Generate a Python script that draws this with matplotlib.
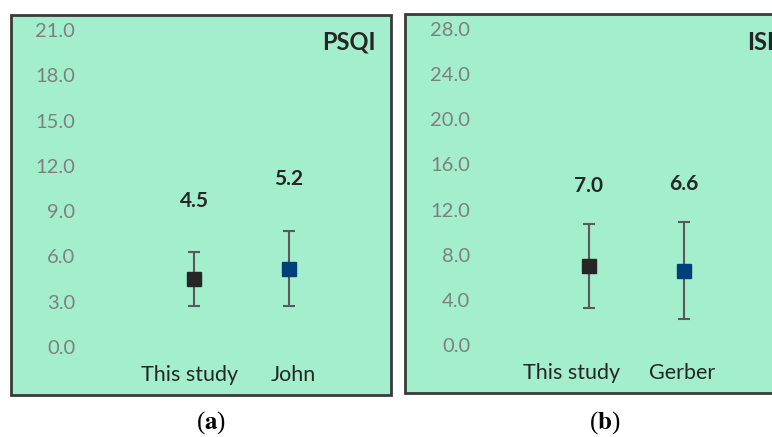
import matplotlib.pyplot as plt
from matplotlib.patches import Rectangle

# PSQI panel
psqi_groups = ["This study", "John"]
psqi_mean = [4.5, 5.2]
psqi_err = [1.8, 2.5]

# ISI panel
isi_groups = ["This study", "Gerber"]
isi_mean = [7.0, 6.6]
isi_err = [3.7, 4.3]

marker_colors = ["#262626", "#003f7a"]
bg = "#a3eecd"
W, H = 772, 437

plt.rcParams['font.family'] = ['Lato', 'DejaVu Sans']
plt.rcParams['mathtext.fontset'] = 'stix'

fig = plt.figure(figsize=(W / 100, H / 100), dpi=100)


def px_box(x0, y0, x1, y1):
    # pixel box (top-left origin) -> figure fraction [l, b, w, h]
    return [x0 / W, 1 - y1 / H, (x1 - x0) / W, (y1 - y0) / H]


def panel(frame, axbox, groups, mean, err, ymax, step, xlim, label_x,
          title, title_x, tag, tag_x):
    l, b, w, h = px_box(*frame)
    fig.patches.append(Rectangle((l, b), w, h, transform=fig.transFigure,
                                 facecolor=bg, edgecolor="#3a3a3a", lw=2.0, zorder=-1))
    ax = fig.add_axes(px_box(*axbox))
    ax.patch.set_alpha(0)
    for s in ax.spines.values():
        s.set_visible(False)
    for i, (m, e) in enumerate(zip(mean, err)):
        ax.errorbar(i, m, yerr=e, fmt="s", color=marker_colors[i], ms=9.5,
                    ecolor="#5a5a5a", elinewidth=1.5, capsize=4.3, capthick=1.5, zorder=3)
        ax.text(i, m + e + 3.4, f"{m:.1f}", ha="center", va="center",
                fontsize=15, fontweight="bold", color="#262626")
    ax.set_ylim(0, ymax)
    ax.set_xlim(*xlim)
    ticks = [step * k for k in range(int(ymax / step) + 1)]
    ax.set_yticks(ticks)
    ax.set_yticklabels([f"{t:.1f}" for t in ticks])
    # category names sit a little off the markers
    ax.set_xticks(label_x)
    ax.set_xticklabels(groups)
    ax.tick_params(axis="y", length=0, pad=7, labelsize=14.5, labelcolor="#7f7f7f")
    ax.tick_params(axis="x", length=0, pad=13, labelsize=15.5, labelcolor="#262626")
    fig.text(title_x / W, 1 - 42 / H, title, ha="left", va="center",
             fontsize=17, fontweight="bold", color="#262626")
    fig.text(tag_x / W, 1 - 423 / H, r"($\mathbf{" + tag + "}$)", ha="center", va="center",
             fontsize=18, family="Liberation Serif", color="black")
    return ax


panel((11, 15, 391, 395), (85, 30, 385, 347), psqi_groups, psqi_mean, psqi_err,
      21, 3, (-1.147, 2.01), [-0.05, 1.04], "PSQI", 322, "a", 211)
panel((405, 14, 800, 393), (480, 29, 772, 345), isi_groups, isi_mean, isi_err,
      28, 4, (-1.147, 1.926), [-0.18, 0.98], "ISI", 747, "b", 605)

fig.savefig("out.png", dpi=100)
